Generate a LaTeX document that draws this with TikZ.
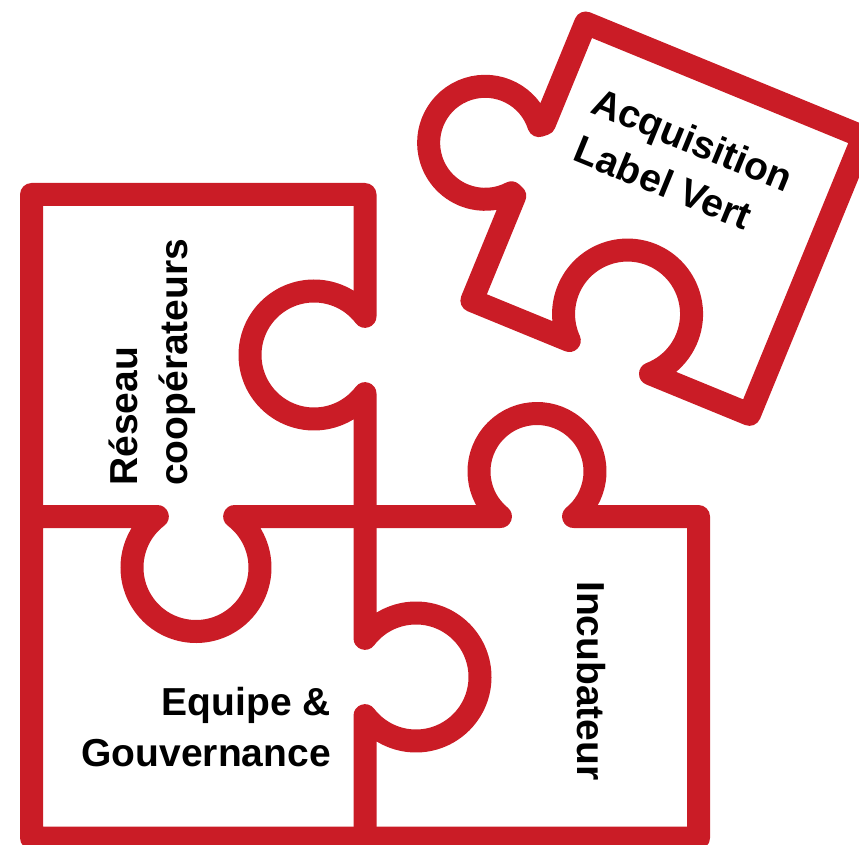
\documentclass[tikz,border=0pt]{standalone}
\usepackage{fontspec}
\setmainfont{Liberation Sans}
\definecolor{puzzlered}{RGB}{202,28,38}
\begin{document}
\begin{tikzpicture}[x=1pt,y=-1pt,
  piece/.style={draw=puzzlered,line width=23pt,line cap=round,line join=round},
  lbl/.style={font=\fontsize{39}{47}\selectfont\bfseries,text=black,inner sep=0pt}]
\useasboundingbox (0,0) rectangle (859,845);
\clip (0,0) rectangle (859,845);
% top-left piece (left, top and right edges with hole)
\draw[piece] (31.5,516.5) -- (31.5,194.5) -- (365,194.5) -- (365,316.33)
  arc[start angle=-37.17, end angle=-322.83, radius=64] -- (365,516.5);
% middle horizontal line, right piece and outer bottom
\draw[piece] (31.5,516.5) -- (157.33,516.5)
  arc[start angle=232.83, end angle=-52.83, radius=64] -- (500.41,516.5)
  arc[start angle=129.11, end angle=410.89, radius=58] -- (698.5,516.5)
  -- (698.5,838) -- (31.5,838) -- cycle;
% lower vertical line with knob
\draw[piece] (365,516.5) -- (365,638.33)
  arc[start angle=217.17, end angle=502.83, radius=64] -- (365,838);
% rotated piece
\begin{scope}[shift={(585.7,23)},rotate=-22.3]
  \draw[piece] (0,0) -- (0,109) -- (-4.32,112.7)
    arc[start angle=-40, end angle=-320, radius=56.5] -- (0,187) -- (0,300)
    -- (105.3,300) arc[start angle=133.3, end angle=406.7, radius=64]
    -- (300,300) -- (300,0) -- cycle;
  \node[lbl,rotate=-22.3,anchor=base west] (acq) at (37,81) {Acquisition};
  \node[lbl,rotate=-22.3,anchor=base west] (lv) at (39,132) {Label Vert};
\end{scope}
% labels
\node[lbl,rotate=90,anchor=base west] (res) at (137,486) {Réseau};
\node[lbl,rotate=90,anchor=base west] (coop) at (187,486) {coopérateurs};
\node[lbl,rotate=-90,anchor=base west] (inc) at (577,581) {Incubateur};
\node[lbl,anchor=base east] (eq) at (331,715) {Equipe \&};
\node[lbl,anchor=base east] (gov) at (331,766) {Gouvernance};
\end{tikzpicture}
\end{document}
